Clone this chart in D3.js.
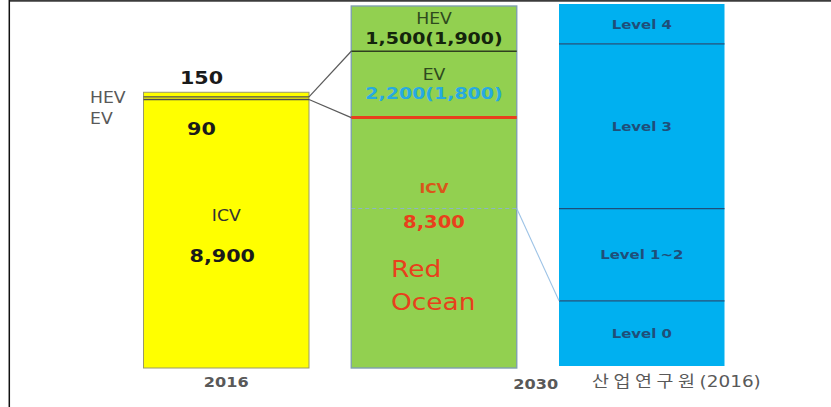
<!DOCTYPE html>
<html>
<head>
<meta charset="utf-8">
<script src="https://cdn.jsdelivr.net/npm/d3@7"></script>
<style>
  html, body { margin: 0; padding: 0; background: #fff; }
  svg { display: block; font-family: "DejaVu Sans", "Noto Sans CJK KR", sans-serif; }
</style>
</head>
<body>
<svg id="chart" width="831" height="407"></svg>
<script>
// Vehicle sales (thousand units) by powertrain, 2016 vs 2030 outlook,
// next to the share of autonomy levels (산업연구원, 2016).
const columns = ["2016", "2030", "산업연구원(2016)"];
const segments = ["ICV", "EV", "HEV"];
const sales2016 = [8900, 90, 150];
const sales2030 = [8300, 2200, 1500];
const alt2030 = [null, 1800, 1900];          // alternative outlook shown in brackets
const levels = ["Level 0", "Level 1~2", "Level 3", "Level 4"];
const levelShare = [18, 25.5, 45.5, 11];     // % of 2030 vehicles
const oceanWords = ["Red", "Ocean"];

const svg = d3.select("#chart");
const SX = 1.15; // horizontal text stretch
const fmt = d3.format(",");

const x = d3.scaleBand().domain(columns).range([143.5, 724.5]).paddingInner(0.2034).paddingOuter(0);
const bw = x.bandwidth();
const y = d3.scaleLinear().domain([0, d3.sum(sales2030)]).range([368, 6]);
const yShare = d3.scaleLinear().domain([0, 100]).range([366, 4]);

function stack(vals, keys) {
  const c = d3.cumsum(vals);
  return vals.map((v, i) => ({ key: keys[i], v, y0: c[i] - v, y1: c[i] }));
}

function label(px, py, str, o = {}) {
  return svg.append("text")
    .attr("transform", `translate(${px},${py}) scale(${SX},1)`)
    .attr("text-anchor", o.anchor || "middle")
    .attr("dominant-baseline", "central")
    .attr("font-size", o.size || 14)
    .attr("font-weight", o.weight || "normal")
    .attr("fill", o.color || "#333")
    .text(str);
}

// frame
svg.append("line").attr("x1", 9).attr("x2", 831).attr("y1", 0.9).attr("y2", 0.9)
  .attr("stroke", "#3c3c3c").attr("stroke-width", 1.8);
svg.append("line").attr("x1", 9.3).attr("x2", 9.3).attr("y1", 0).attr("y2", 407)
  .attr("stroke", "#111").attr("stroke-width", 1.5);

// ---- 2016 bar ----
const s16 = stack(sales2016, segments);
const x16 = x(columns[0]);
svg.append("g").selectAll("rect").data(s16).join("rect")
  .attr("x", x16).attr("width", bw)
  .attr("y", d => y(d.y1)).attr("height", d => y(d.y0) - y(d.y1))
  .attr("fill", "#ffff00");
const top16 = y(d3.sum(sales2016));
svg.append("rect").attr("x", x16).attr("y", top16).attr("width", bw).attr("height", y(0) - top16)
  .attr("fill", "none").attr("stroke", "#9a9a6a").attr("stroke-width", 1);
svg.append("g").selectAll("line").data(s16.slice(0, 2)).join("line")
  .attr("x1", x16).attr("x2", x16 + bw)
  .attr("y1", d => y(d.y1)).attr("y2", d => y(d.y1))
  .attr("stroke", "#4d4d4d").attr("stroke-width", 1.3);

// ---- 2030 bar ----
const s30 = stack(sales2030, segments);
const x30 = x(columns[1]);
svg.append("g").selectAll("rect").data(s30).join("rect")
  .attr("x", x30).attr("width", bw)
  .attr("y", d => y(d.y1)).attr("height", d => y(d.y0) - y(d.y1))
  .attr("fill", "#92d050");
const top30 = y(d3.sum(sales2030));
svg.append("rect").attr("x", x30).attr("y", top30).attr("width", bw).attr("height", y(0) - top30)
  .attr("fill", "none").attr("stroke", "#7f9fae").attr("stroke-width", 1.4);
// EV / HEV boundary
svg.append("line").attr("x1", x30).attr("x2", x30 + bw)
  .attr("y1", y(s30[1].y1)).attr("y2", y(s30[1].y1))
  .attr("stroke", "#2f3f1f").attr("stroke-width", 1.3);
// ICV / EV boundary
svg.append("line").attr("x1", x30).attr("x2", x30 + bw)
  .attr("y1", y(s30[0].y1)).attr("y2", y(s30[0].y1))
  .attr("stroke", "#e8401c").attr("stroke-width", 3);
// projection of the autonomy split into ICV
const splitShare = levelShare[0] + levelShare[1];
svg.append("line").attr("x1", x30).attr("x2", x30 + bw)
  .attr("y1", yShare(splitShare)).attr("y2", yShare(splitShare))
  .attr("stroke", "#8fb4c8").attr("stroke-width", 1).attr("stroke-dasharray", "4,3");

// ---- autonomy levels bar ----
const sLv = stack(levelShare, levels);
const xLv = x(columns[2]);
svg.append("g").selectAll("rect").data(sLv).join("rect")
  .attr("x", xLv).attr("width", bw)
  .attr("y", d => yShare(d.y1)).attr("height", d => yShare(d.y0) - yShare(d.y1))
  .attr("fill", "#00b0f0");
svg.append("g").selectAll("line").data(sLv.slice(0, 3)).join("line")
  .attr("x1", xLv).attr("x2", xLv + bw)
  .attr("y1", d => yShare(d.y1)).attr("y2", d => yShare(d.y1))
  .attr("stroke", "#1f4e79").attr("stroke-width", 1.3);
sLv.forEach(d => label(xLv + bw / 2, (yShare(d.y0) + yShare(d.y1)) / 2, d.key,
  { size: 13, weight: "bold", color: "#1f4e79" }));

// ---- connectors ----
svg.append("line")
  .attr("x1", x16 + bw).attr("y1", y(s16[1].y1))
  .attr("x2", x30).attr("y2", y(s30[1].y1))
  .attr("stroke", "#5a5a5a").attr("stroke-width", 1.2);
svg.append("line")
  .attr("x1", x16 + bw).attr("y1", y(s16[0].y1))
  .attr("x2", x30).attr("y2", y(s30[0].y1))
  .attr("stroke", "#5a5a5a").attr("stroke-width", 1.2);
svg.append("line")
  .attr("x1", x30 + bw).attr("y1", yShare(splitShare))
  .attr("x2", xLv).attr("y2", yShare(levelShare[0]))
  .attr("stroke", "#9dc3e6").attr("stroke-width", 1.1);

// ---- 2016 labels ----
const hevLabelY = top16 + 6;
label(90, hevLabelY, segments[2], { anchor: "start", size: 15, color: "#595959" });
label(90, hevLabelY + 21, segments[1], { anchor: "start", size: 15, color: "#595959" });
label(201.5, top16 - 14, fmt(sales2016[2]), { size: 18, weight: "bold", color: "#1a1a1a" });
label(201.5, hevLabelY + 31, fmt(sales2016[1]), { size: 18, weight: "bold", color: "#1a1a1a" });
const icv16Mid = (y(0) + y(s16[0].y1)) / 2;
label(x16 + bw / 2, icv16Mid - 18, segments[0], { size: 15, color: "#333" });
label(x16 + bw / 2 - 4, icv16Mid + 22, fmt(sales2016[0]), { size: 18, weight: "bold", color: "#1a1a1a" });

// ---- 2030 labels ----
const cx30 = x30 + bw / 2;
const hevMid = (y(s30[2].y0) + y(s30[2].y1)) / 2;
label(cx30, hevMid - 9.5, segments[2], { size: 15, color: "#2e4a1e" });
label(cx30, hevMid + 9, `${fmt(sales2030[2])}(${fmt(alt2030[2])})`, { size: 16.5, weight: "bold", color: "#14240c" });
const evMid = (y(s30[1].y0) + y(s30[1].y1)) / 2;
label(cx30, evMid - 9.5, segments[1], { size: 15, color: "#2e4a1e" });
label(cx30, evMid + 9, `${fmt(sales2030[1])}(${fmt(alt2030[1])})`, { size: 16.5, weight: "bold", color: "#27aae1" });
const ySplit = yShare(splitShare);
label(cx30, ySplit - 20, segments[0], { size: 13.5, weight: "bold", color: "#d9561a" });
label(cx30, ySplit + 13, fmt(sales2030[0]), { size: 17, weight: "bold", color: "#e8401c" });
oceanWords.forEach((w, i) => label(391, ySplit + 61 + i * 33, w, { anchor: "start", size: 23, color: "#e8401c" }));

// ---- column captions ----
label(x16 + bw / 2, 382.5, columns[0], { size: 14, weight: "bold", color: "#595959" });
label(x30 + bw + 19, 384, columns[1], { size: 14, weight: "bold", color: "#595959" });
const src = svg.append("text")
  .attr("transform", `translate(${xLv + 33},381.5) scale(${SX},1)`)
  .attr("dominant-baseline", "central").attr("fill", "#595959");
src.append("tspan").attr("font-size", 16).attr("letter-spacing", 4).text("산업연구원");
src.append("tspan").attr("font-size", 16).text("(2016)");
</script>
</body>
</html>
